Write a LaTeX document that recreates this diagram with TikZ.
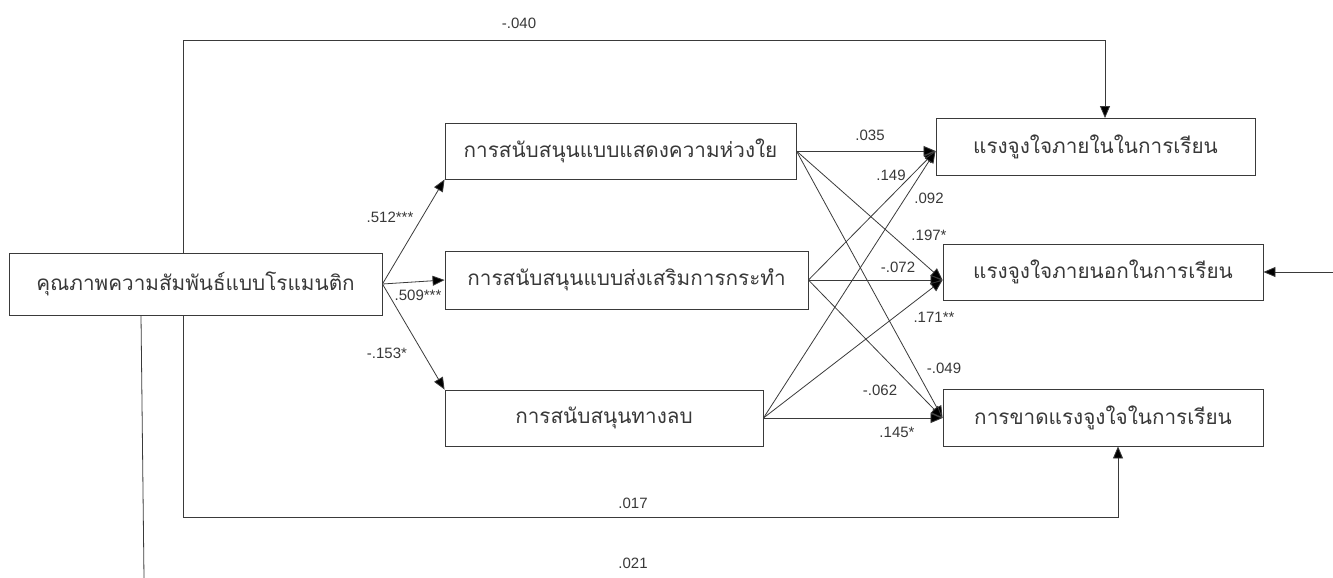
\documentclass[tikz,border=0pt]{standalone}
\usepackage{fontspec}
\setmainfont{Liberation Sans}
\newfontfamily\thaifont[Script=Thai]{Loma}
\usetikzlibrary{arrows.meta,positioning}
\definecolor{linegray}{HTML}{3A3A3A}
\definecolor{textgray}{HTML}{383838}

\begin{document}
\begin{tikzpicture}[x=1pt,y=-1pt,
  var/.style={draw=linegray,line width=0.9pt,inner sep=0pt,text=textgray,font=\thaifont\fontsize{20.7}{24}\selectfont},
  effect/.style={draw=linegray,line width=0.8pt,-{Triangle[length=12pt,width=10pt,fill=black]}},
  bare/.style={draw=linegray,line width=0.8pt},
  coef/.style={inner sep=1pt,text=textgray,font=\fontsize{15}{17}\selectfont}]
\useasboundingbox (0,0) rectangle (1333,578);

% variables
\node[var,minimum width=373pt,minimum height=62pt] (rom) at (195.5,284) {คุณภาพความสัมพันธ์แบบโรแมนติก};
\node[var,minimum width=351pt,minimum height=56pt] (care) at (620.5,151) {การสนับสนุนแบบแสดงความห่วงใย};
\node[var,minimum width=363pt,minimum height=58pt] (act) at (626.5,280) {การสนับสนุนแบบส่งเสริมการกระทำ};
\node[var,minimum width=318pt,minimum height=56pt] (neg) at (604,418) {การสนับสนุนทางลบ};
\node[var,minimum width=319pt,minimum height=57pt] (intr) at (1095.5,147) {แรงจูงใจภายในในการเรียน};
\node[var,minimum width=320pt,minimum height=56pt] (extr) at (1103,272) {แรงจูงใจภายนอกในการเรียน};
\node[var,minimum width=320pt,minimum height=57pt] (amot) at (1103,417.5) {การขาดแรงจูงใจในการเรียน};

% entry points
\coordinate (intrin) at (intr.west |- care.east);
\coordinate (extrin) at (extr.west |- act.east);
\coordinate (amotin) at (amot.west |- neg.east);

% romantic quality to support
\draw[effect] (rom.east) -- (care.south west);
\draw[effect] (rom.east) -- (act.west);
\draw[effect] (rom.east) -- (neg.north west);

% support to motivation
\foreach \s in {care,act,neg}
  \foreach \t in {intrin,extrin,amotin}
    \draw[effect] (\s.east) -- (\t);

% direct paths
\coordinate (topL) at (183,40);
\coordinate (topR) at (1105,40);
\draw[effect] (rom.north -| topL) -- (topL) -- (topR) -- (intr.north -| topR);
\coordinate (botL) at (183,517);
\coordinate (botR) at (1118,517);
\draw[effect] (rom.south -| botL) -- (botL) -- (botR) -- (amot.south -| botR);
\coordinate (tailtop) at (141,0);
\coordinate (tailend) at (144,578);
\draw[bare] (rom.south -| tailtop) -- (tailend);
\coordinate (extsrc) at (1333,272);
\draw[effect] (extsrc) -- (extr.east);

% coefficients
\node[coef] (c512) at (390,217) {.512***};
\node[coef] (c509) at (418,295) {.509***};
\node[coef] (c153) at (387,353) {-.153*};
\node[coef] (c040) at (519,23) {-.040};
\node[coef] (c017) at (633,503) {.017};
\node[coef] (c021) at (633,563) {.021};
\node[coef] (c035) at (870,135) {.035};
\node[coef] (c149) at (891,175) {.149};
\node[coef] (c092) at (929,198) {.092};
\node[coef] (c197) at (929,235) {.197*};
\node[coef] (c072) at (898,267) {-.072};
\node[coef] (c171) at (934,317) {.171**};
\node[coef] (c049) at (944,368) {-.049};
\node[coef] (c062) at (880,390) {-.062};
\node[coef] (c145) at (897,432) {.145*};
\end{tikzpicture}
\end{document}
